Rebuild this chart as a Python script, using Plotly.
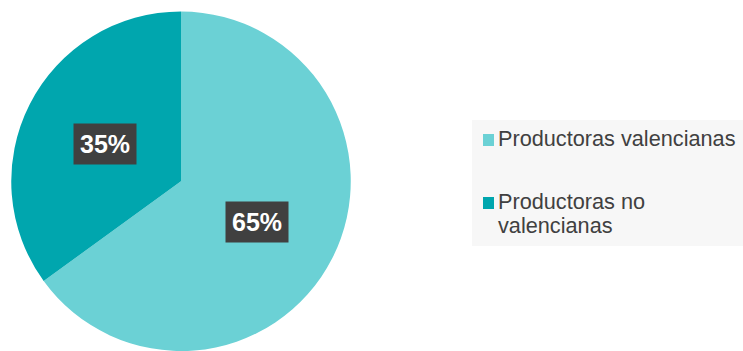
import math
import plotly.graph_objects as go

W, H = 743, 351

labels = ['Productoras valencianas', 'Productoras no valencianas']
legend_text = ['Productoras valencianas', 'Productoras no<br>valencianas']
values = [65, 35]
colors = ['#6bd1d5', '#00a6ae']

# pie geometry in pixels
cx, cy, r = 181, 181.5, 170

fig = go.Figure()

fig.add_trace(
    go.Pie(labels=labels,
           values=values,
           sort=False,
           direction='clockwise',
           rotation=0,
           marker=dict(colors=colors, line=dict(width=0)),
           textinfo='none',
           hoverinfo='label+percent',
           showlegend=False,
           domain=dict(x=[(cx - r) / W, (cx + r) / W],
                       y=[max(0, 1 - (cy + r) / H), 1 - (cy - r) / H]),
           ))

# percent labels, placed at half radius on each slice's mid angle
total = sum(values)
cum = 0
for v in values:
    mid = (cum + v / 2) / total * 2 * math.pi
    cum += v
    px = cx + 0.5 * r * math.sin(mid)
    py = cy - 0.5 * r * math.cos(mid) + 1.5
    fig.add_annotation(
        x=px / W, y=1 - py / H, xref='paper', yref='paper',
        text=f'<b>{round(v / total * 100)}%</b>',
        showarrow=False,
        font=dict(family='Arial, Liberation Sans', size=25, color='white'),
        bgcolor='#404040',
        borderpad=6,
        xanchor='center', yanchor='middle',
    )

# legend box
fig.add_shape(type='rect', xref='paper', yref='paper',
              x0=472 / W, x1=1, y0=1 - 246 / H, y1=1 - 120 / H,
              fillcolor='#f7f7f7', line=dict(width=0), layer='below')

legend_rows = [140, 203]
line_gap = 24
for txt, col, ty in zip(legend_text, colors, legend_rows):
    fig.add_shape(type='rect', xref='paper', yref='paper',
                  x0=483 / W, x1=494 / W,
                  y0=1 - (ty + 6) / H, y1=1 - (ty - 6) / H,
                  fillcolor=col, line=dict(width=0))
    for i, line in enumerate(txt.split('<br>')):
        fig.add_annotation(
            x=496 / W, y=1 - (ty - 1.5 + i * line_gap) / H,
            xref='paper', yref='paper',
            text=line, showarrow=False, align='left',
            xanchor='left', yanchor='middle',
            font=dict(family='Arial, Liberation Sans', size=21.7, color='#404040'),
        )

fig.update_layout(
    width=W, height=H,
    margin=dict(l=0, r=0, t=0, b=0),
    paper_bgcolor='white',
    plot_bgcolor='white',
    showlegend=False,
)

# drop the browser's default 8px body margin so the figure sits at 0,0
fig.write_html("out.html", config={'displayModeBar': False},
               post_script="document.body.style.margin='0';")
